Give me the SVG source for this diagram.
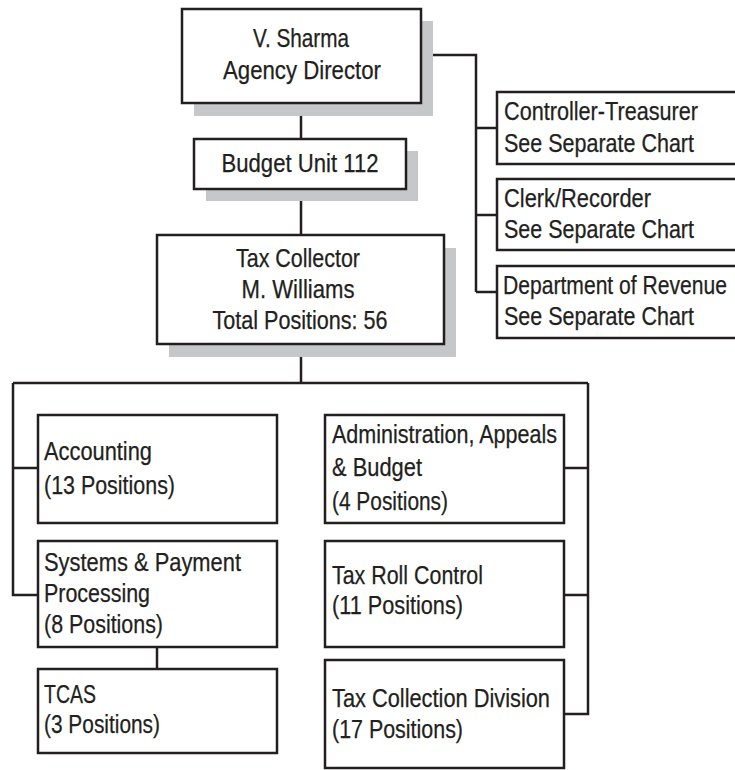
<svg xmlns="http://www.w3.org/2000/svg" width="735" height="770" viewBox="0 0 735 770">
  <style>
    .box { fill: #ffffff; stroke: #231f20; stroke-width: 2.5; }
    .shadow { fill: #c6c7c8; stroke: none; }
    .link { fill: none; stroke: #231f20; stroke-width: 2.5; stroke-linejoin: miter; }
    text { font-family: "Liberation Sans", Arial, sans-serif; font-size: 25px; fill: #231f20; stroke: #231f20; stroke-width: 0.25; }
    .c { text-anchor: middle; }
  </style>

  <rect width="735" height="770" fill="#ffffff"/>

  <!-- connectors -->
  <g id="connectors">
    <path class="link" d="M301 103 V139 M301 189 V235 M301 344 V383"/>
    <path class="link" d="M421 55 H476 V292 M476 128 H497 M476 215 H497 M476 292 H497"/>
    <path class="link" d="M13 383 H588 M13 383 V595 H38 M13 468 H38"/>
    <path class="link" d="M588 383 V714 H564 M588 468 H564 M588 595 H564"/>
    <path class="link" d="M157 647 V669"/>
  </g>

  <g id="director">
    <rect class="shadow" x="194" y="21" width="239" height="95"/>
    <rect class="box" x="182" y="9" width="239" height="94"/>
    <text class="c" x="301" y="47" textLength="96" lengthAdjust="spacingAndGlyphs">V. Sharma</text>
    <text class="c" x="302" y="79" textLength="158" lengthAdjust="spacingAndGlyphs">Agency Director</text>
  </g>

  <g id="budget-unit">
    <rect class="shadow" x="206" y="151" width="212" height="50"/>
    <rect class="box" x="194" y="139" width="212" height="50"/>
    <text class="c" x="300" y="172" textLength="157" lengthAdjust="spacingAndGlyphs">Budget Unit 112</text>
  </g>

  <g id="tax-collector">
    <rect class="shadow" x="169" y="248" width="287" height="109"/>
    <rect class="box" x="157" y="235" width="287" height="109"/>
    <text class="c" x="298" y="267" textLength="124" lengthAdjust="spacingAndGlyphs">Tax Collector</text>
    <text class="c" x="298" y="298" textLength="113" lengthAdjust="spacingAndGlyphs">M. Williams</text>
    <text class="c" x="300" y="329" textLength="175" lengthAdjust="spacingAndGlyphs">Total Positions: 56</text>
  </g>

  <g id="controller-treasurer">
    <rect class="box" x="497" y="92" width="260" height="72"/>
    <text x="504" y="120" textLength="194" lengthAdjust="spacingAndGlyphs">Controller-Treasurer</text>
    <text x="504" y="152" textLength="190" lengthAdjust="spacingAndGlyphs">See Separate Chart</text>
  </g>

  <g id="clerk-recorder">
    <rect class="box" x="497" y="179" width="260" height="71"/>
    <text x="504" y="207" textLength="147" lengthAdjust="spacingAndGlyphs">Clerk/Recorder</text>
    <text x="504" y="238" textLength="190" lengthAdjust="spacingAndGlyphs">See Separate Chart</text>
  </g>

  <g id="department-of-revenue">
    <rect class="box" x="497" y="266" width="260" height="72"/>
    <text x="503" y="294" textLength="224" lengthAdjust="spacingAndGlyphs">Department of Revenue</text>
    <text x="504" y="325" textLength="190" lengthAdjust="spacingAndGlyphs">See Separate Chart</text>
  </g>

  <g id="accounting">
    <rect class="box" x="38" y="415" width="239" height="108"/>
    <text x="44" y="460" textLength="108" lengthAdjust="spacingAndGlyphs">Accounting</text>
    <text x="44" y="494" textLength="131" lengthAdjust="spacingAndGlyphs">(13 Positions)</text>
  </g>

  <g id="systems-payment">
    <rect class="box" x="38" y="541" width="239" height="106"/>
    <text x="44" y="571" textLength="197" lengthAdjust="spacingAndGlyphs">Systems &amp; Payment</text>
    <text x="44" y="602" textLength="106" lengthAdjust="spacingAndGlyphs">Processing</text>
    <text x="44" y="633" textLength="119" lengthAdjust="spacingAndGlyphs">(8 Positions)</text>
  </g>

  <g id="tcas">
    <rect class="box" x="38" y="669" width="239" height="84"/>
    <text x="44" y="703" textLength="52" lengthAdjust="spacingAndGlyphs">TCAS</text>
    <text x="44" y="733" textLength="116" lengthAdjust="spacingAndGlyphs">(3 Positions)</text>
  </g>

  <g id="administration">
    <rect class="box" x="325" y="415" width="239" height="108"/>
    <text x="332" y="443" textLength="225" lengthAdjust="spacingAndGlyphs">Administration, Appeals</text>
    <text x="332" y="476" textLength="90" lengthAdjust="spacingAndGlyphs">&amp; Budget</text>
    <text x="332" y="510" textLength="116" lengthAdjust="spacingAndGlyphs">(4 Positions)</text>
  </g>

  <g id="tax-roll-control">
    <rect class="box" x="325" y="541" width="239" height="106"/>
    <text x="332" y="584" textLength="151" lengthAdjust="spacingAndGlyphs">Tax Roll Control</text>
    <text x="332" y="614" textLength="131" lengthAdjust="spacingAndGlyphs">(11 Positions)</text>
  </g>

  <g id="tax-collection-division">
    <rect class="box" x="325" y="660" width="239" height="108"/>
    <text x="332" y="707" textLength="218" lengthAdjust="spacingAndGlyphs">Tax Collection Division</text>
    <text x="332" y="738" textLength="131" lengthAdjust="spacingAndGlyphs">(17 Positions)</text>
  </g>
</svg>
